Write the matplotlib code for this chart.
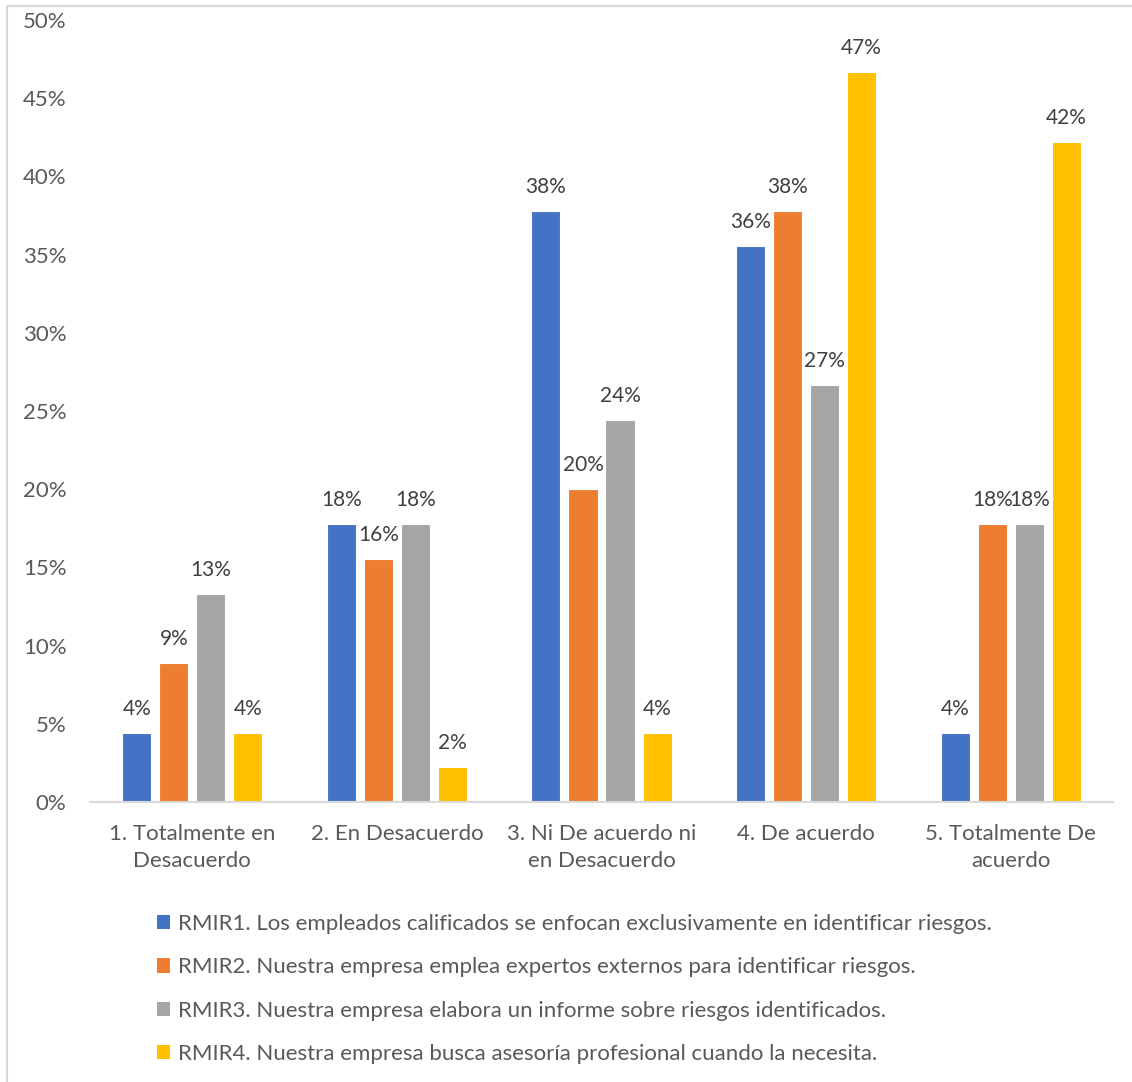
import matplotlib
matplotlib.use("Agg")
import matplotlib.pyplot as plt
from matplotlib.patches import Patch
from matplotlib.lines import Line2D
import numpy as np

categories = ["1. Totalmente en\nDesacuerdo", "2. En Desacuerdo",
              "3. Ni De acuerdo ni\nen Desacuerdo", "4. De acuerdo",
              "5. Totalmente De\nacuerdo"]
series_names = [
    "RMIR1. Los empleados calificados se enfocan exclusivamente en identificar riesgos.",
    "RMIR2. Nuestra empresa emplea expertos externos para identificar riesgos.",
    "RMIR3. Nuestra empresa elabora un informe sobre riesgos identificados.",
    "RMIR4. Nuestra empresa busca asesoría profesional cuando la necesita.",
]
rmir1 = [4.44, 17.78, 37.78, 35.56, 4.44]
rmir2 = [8.89, 15.56, 20.00, 37.78, 17.78]
rmir3 = [13.33, 17.78, 24.44, 26.67, 17.78]
rmir4 = [4.44, 2.22, 4.44, 46.67, 42.22]
series = [rmir1, rmir2, rmir3, rmir4]
colors = ["#4472C4", "#ED7D31", "#A5A5A5", "#FFC000"]
yticks = [0, 5, 10, 15, 20, 25, 30, 35, 40, 45, 50]

plt.rcParams['font.family'] = ['Lato', 'DejaVu Sans']
FS = 16
W, H = 1132, 1082
fig = plt.figure(figsize=(W/100, H/100), dpi=100)
ax = fig.add_axes([90/W, 1-802/H, (1113-90)/W, (802-20)/H])

x = np.arange(len(categories))
pitch = 0.181
width = 0.142
for i, (vals, c) in enumerate(zip(series, colors)):
    pos = x + (i - 1.5) * pitch
    ax.bar(pos, vals, width=width, color=c, edgecolor="white", linewidth=0.8, zorder=2)
    for p, v in zip(pos, vals):
        ax.annotate(f"{round(v):.0f}%", (p, v), xytext=(0, 10), textcoords="offset points",
                    ha="center", va="bottom", fontsize=15, color="#404040")

ax.set_xlim(-0.5, len(categories) - 0.5)
ax.set_ylim(0, 50)
ax.set_yticks(yticks)
ax.set_yticklabels([f"{t}%" for t in yticks])
ax.set_xticks(x)
ax.set_xticklabels(categories, linespacing=1.45)
ax.tick_params(axis='both', length=0, labelsize=FS, labelcolor="#595959")
ax.tick_params(axis='y', pad=17)
ax.tick_params(axis='x', pad=16)
for s in ["top", "right", "left"]:
    ax.spines[s].set_visible(False)
ax.spines["bottom"].set_color("#D9D9D9")
ax.spines["bottom"].set_linewidth(1.5)

handles = [Patch(facecolor=c, edgecolor="none") for c in colors]
fig.legend(handles, series_names, loc="upper left", bbox_to_anchor=(157/W, 1-914/H),
           frameon=False, fontsize=FS, labelcolor="#595959", handlelength=0.6,
           handleheight=0.6, handletextpad=0.35, labelspacing=1.05, borderaxespad=0,
           borderpad=0)

fig.add_artist(Line2D([7/W, 7/W], [0, 1-6/H], transform=fig.transFigure, color="#D9D9D9", lw=1.5))
fig.add_artist(Line2D([7/W, 1], [1-6/H, 1-6/H], transform=fig.transFigure, color="#D9D9D9", lw=1.5))

fig.savefig("out.png", dpi=100, facecolor="white")
